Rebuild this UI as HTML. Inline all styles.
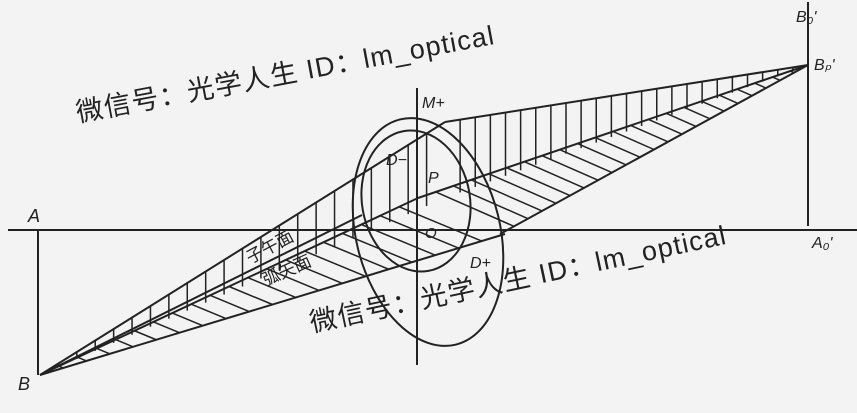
<!DOCTYPE html>
<html><head><meta charset="utf-8"><style>
html,body{margin:0;padding:0;background:#f3f3f3}
svg{display:block}
text{font-family:"Liberation Sans","Noto Sans CJK SC",sans-serif;fill:#222}
</style></head><body>
<svg id="s" width="857" height="413" viewBox="0 0 857 413">
<rect width="857" height="413" fill="#f3f3f3"/>
<g stroke="#222" stroke-width="2" fill="none">
<line x1="8" y1="230" x2="857" y2="230"/>
<line x1="417" y1="88" x2="417" y2="365"/>
<line x1="808" y1="2" x2="808" y2="226"/>
<line x1="38" y1="230" x2="38" y2="375"/>
<ellipse cx="428" cy="232" rx="72" ry="116" transform="rotate(-14 428 232)"/>
<ellipse cx="416" cy="201" rx="54" ry="71" transform="rotate(-10 416 201)"/>
<line x1="40" y1="375" x2="445" y2="122"/>
<line x1="40" y1="375" x2="505" y2="234"/>
<line x1="40" y1="375" x2="418" y2="198"/>
<line x1="40" y1="375" x2="362" y2="215"/>
<line x1="808" y1="65" x2="445" y2="122"/>
<line x1="808" y1="65" x2="500" y2="234"/>
<line x1="808" y1="65" x2="418" y2="198"/>
</g>
<g id="h" stroke="#222" stroke-width="1.5"></g>
<text x="28" y="222" font-size="18" font-style="italic">A</text>
<text x="18" y="390" font-size="18" font-style="italic">B</text>
<text x="422" y="108" font-size="16" font-style="italic">M+</text>
<text x="386" y="165" font-size="16" font-style="italic">D−</text>
<text x="428" y="183" font-size="16" font-style="italic">P</text>
<text x="425" y="238" font-size="15" font-style="italic">O</text>
<text x="470" y="268" font-size="16" font-style="italic">D+</text>
<text x="796" y="22" font-size="16" font-style="italic">B₀'</text>
<text x="814" y="70" font-size="16" font-style="italic">Bₚ'</text>
<text x="812" y="248" font-size="16" font-style="italic">A₀'</text>
<text x="250" y="264" font-size="17" transform="rotate(-28 250 264)">子午面</text>
<text x="266" y="286" font-size="17" transform="rotate(-24 266 286)">弧矢面</text>
<text x="78" y="122" font-size="27" letter-spacing="1.2" transform="rotate(-10.6 78 122)">微信号：光学人生  ID：lm_optical</text>
<text x="312" y="332" font-size="27" letter-spacing="1.2" transform="rotate(-12 312 332)">微信号：光学人生  ID：lm_optical</text>
</svg>
<script>
var g=document.getElementById('h'),ns='http://www.w3.org/2000/svg';
function L(a,b,c,d){var l=document.createElementNS(ns,'line');l.setAttribute('x1',a);l.setAttribute('y1',b);l.setAttribute('x2',c);l.setAttribute('y2',d);g.appendChild(l);}
function lerp(p,q,t){return [p[0]+(q[0]-p[0])*t,p[1]+(q[1]-p[1])*t];}
var B=[40,375],T=[445,122],Mi=[418,198],Lo=[505,234],Bp=[808,65],R1=[500,234];
for(var i=1;i<22;i++){var t=i/22;var a=lerp(B,T,t),b=lerp(B,Mi,t);L(a[0],a[1],a[0],b[1]);}
for(var i=1;i<20;i++){var t=i/20;var a=lerp(B,Mi,t),b=lerp(B,Lo,t);L(a[0],a[1],b[0],b[1]);}
for(var i=1;i<24;i++){var t=i/24;var a=lerp(T,Bp,t),b=lerp(Mi,Bp,t);L(a[0],a[1],a[0],b[1]);}
for(var i=1;i<22;i++){var t=i/22;var a=lerp(Mi,Bp,t),b=lerp(R1,Bp,t);L(a[0],a[1],b[0],b[1]);}
</script>
</body></html>
